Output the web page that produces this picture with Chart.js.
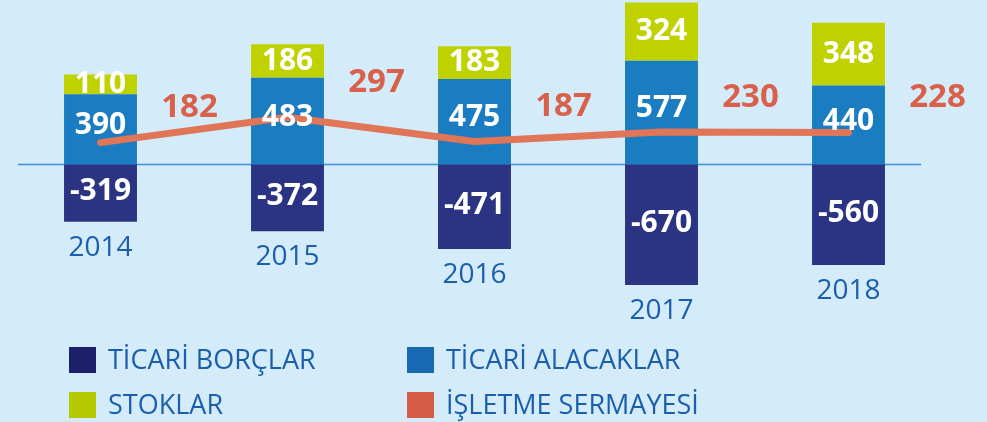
<!DOCTYPE html>
<html lang="tr">
<head>
<meta charset="utf-8">
<title>İşletme Sermayesi</title>
<script src="https://cdn.jsdelivr.net/npm/chart.js@4.4.1/dist/chart.umd.min.js"></script>
<style>
    html, body { margin: 0; padding: 0; background: #d4ebf9; }
    .wrap { position: relative; width: 987px; height: 422px; background: #d4ebf9; overflow: hidden; }
    #chart { display: block; }
</style>
</head>
<body>
<div class="wrap">
    <canvas id="chart" width="987" height="422"></canvas>
</div>
<script>
/* ========================================
   Data
   ======================================== */
const years = ['2014', '2015', '2016', '2017', '2018'];
const ticariBorclar = [-319, -372, -471, -670, -560];
const ticariAlacaklar = [390, 483, 475, 577, 440];
const stoklar = [110, 186, 183, 324, 348];
const isletmeSermayesi = [182, 297, 187, 230, 228];

const seriesNames = ['TİCARİ BORÇLAR', 'TİCARİ ALACAKLAR', 'STOKLAR', 'İŞLETME SERMAYESİ'];

const FONT = "'Open Sans', 'Noto Sans', sans-serif";
const TEXT_BLUE = '#1b5fac';

// Zero line behind the bars
const zeroLinePlugin = {
    id: 'zeroLine',
    beforeDatasetsDraw(chart) {
        const ctx = chart.ctx;
        const area = chart.chartArea;
        const y = chart.scales.y.getPixelForValue(0);
        ctx.save();
        ctx.strokeStyle = '#3d8fd9';
        ctx.lineWidth = 1.5;
        ctx.beginPath();
        ctx.moveTo(area.left + 11, y);
        ctx.lineTo(area.right - 21, y);
        ctx.stroke();
        ctx.restore();
    }
};

// Value labels, year labels and the legend
const labelsPlugin = {
    id: 'labels',
    afterDatasetsDraw(chart) {
        const ctx = chart.ctx;
        ctx.save();
        ctx.textAlign = 'center';
        ctx.textBaseline = 'alphabetic';

        // white numbers inside the bar segments
        const offsets = [-3.5, -6, -2];
        ctx.fillStyle = '#ffffff';
        ctx.font = 'bold 30px ' + FONT;
        for (let d = 0; d < 3; d++) {
            const meta = chart.getDatasetMeta(d);
            const values = chart.data.datasets[d].data;
            meta.data.forEach(function(bar, i) {
                const mid = (bar.y + bar.base) / 2 + offsets[d];
                ctx.fillText(String(values[i]), bar.x, mid + 10.7);
            });
        }

        // orange numbers for the working capital line
        const lineMeta = chart.getDatasetMeta(3);
        const xStep = chart.scales.x.getPixelForValue(1) - chart.scales.x.getPixelForValue(0);
        ctx.fillStyle = '#d9604a';
        ctx.font = 'bold 33px ' + FONT;
        lineMeta.data.forEach(function(pt, i) {
            ctx.fillText(String(isletmeSermayesi[i]), pt.x + xStep * 0.476, pt.y - 37 + 11.8);
        });

        // year labels under each negative bar
        const negMeta = chart.getDatasetMeta(0);
        ctx.fillStyle = TEXT_BLUE;
        ctx.font = '28px ' + FONT;
        negMeta.data.forEach(function(bar, i) {
            ctx.fillText(years[i], bar.x, bar.y + 34);
        });

        // legend, two columns
        const colX = [69, 407];
        const rowY = [347, 392];
        ctx.textAlign = 'left';
        ctx.font = '27px ' + FONT;
        chart.data.datasets.forEach(function(ds, i) {
            const x = colX[i % 2];
            const y = rowY[Math.floor(i / 2)];
            ctx.fillStyle = ds.legendColor;
            ctx.fillRect(x, y, 27, 26);
            ctx.fillStyle = TEXT_BLUE;
            ctx.fillText(ds.label, x + 39, y + 22);
        });

        ctx.restore();
    }
};

function createWorkingCapitalChart(canvasId) {
    const ctx = document.getElementById(canvasId);
    if (!ctx) return null;

    const barCommon = {
        type: 'bar',
        borderWidth: 0,
        barPercentage: 0.39,
        categoryPercentage: 1,
        order: 2,
        yAxisID: 'y',
        stack: 'main'
    };

    return new Chart(ctx, {
        data: {
            labels: years,
            datasets: [
                Object.assign({}, barCommon, {
                    label: seriesNames[0],
                    data: ticariBorclar,
                    backgroundColor: '#2a3482',
                    legendColor: '#1c2068'
                }),
                Object.assign({}, barCommon, {
                    label: seriesNames[1],
                    data: ticariAlacaklar,
                    backgroundColor: '#1a7dc1',
                    legendColor: '#1769b4'
                }),
                Object.assign({}, barCommon, {
                    label: seriesNames[2],
                    data: stoklar,
                    backgroundColor: '#bfd200',
                    legendColor: '#b5c900'
                }),
                {
                    type: 'line',
                    label: seriesNames[3],
                    data: isletmeSermayesi,
                    yAxisID: 'y2',
                    stack: 'line',
                    order: 1,
                    borderColor: '#e07558',
                    borderWidth: 7,
                    borderCapStyle: 'round',
                    borderJoinStyle: 'round',
                    tension: 0,
                    pointRadius: 0,
                    fill: false,
                    legendColor: '#d55c45'
                }
            ]
        },
        options: {
            responsive: false,
            animation: false,
            devicePixelRatio: 1,
            layout: {
                padding: { left: 7, right: 45, top: 0, bottom: 92 }
            },
            plugins: {
                legend: { display: false },
                tooltip: { enabled: false }
            },
            scales: {
                x: { display: false, stacked: true },
                y: { display: false, stacked: true, min: -921, max: 915 },
                y2: { display: false, position: 'right', min: -668, max: 829 }
            }
        },
        plugins: [zeroLinePlugin, labelsPlugin]
    });
}

createWorkingCapitalChart('chart');
</script>
</body>
</html>
